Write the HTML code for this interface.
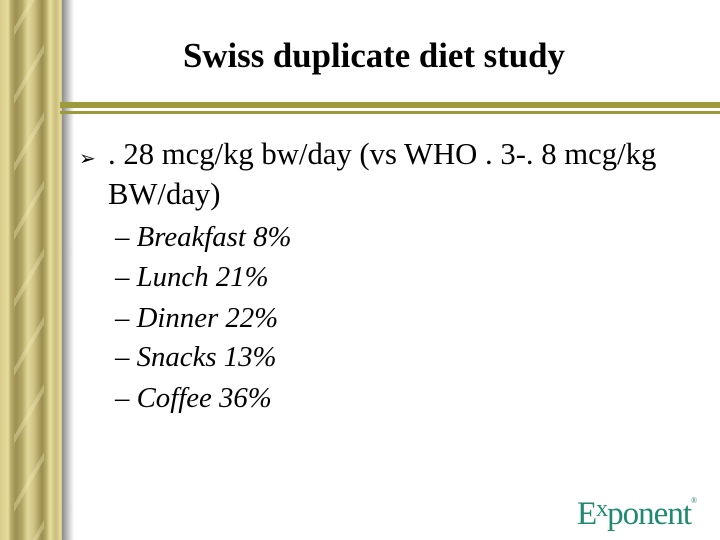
<!DOCTYPE html>
<html><head><meta charset="utf-8"><style>
body{margin:0;width:720px;height:540px;position:relative;background:#fff;overflow:hidden;font-family:"Liberation Serif",serif;}
#pillar{position:absolute;left:0;top:0;width:62px;height:540px;
background:linear-gradient(90deg,#d8cc8a 0,#e6dc9c 8px,#b8ab6a 11px,#9c8f52 16px,#b4a766 22px,#e2d89a 28px,#cfc284 34px,#9a8c4e 42px,#b6a968 46px,#e8de9e 50px,#c9bc7c 56px,#e4da9a 60px,#d8cc8a 62px);}
#stripes{position:absolute;left:14px;top:0;width:30px;height:540px;opacity:.35;
background:repeating-linear-gradient(120deg,transparent 0 14px,#f4ecb8 14px 18px,transparent 18px 34px);}
#shadow{position:absolute;left:62px;top:0;width:12px;height:540px;background:linear-gradient(90deg,#8a8a8a,#ffffff);}
.rule{position:absolute;left:60px;right:0;background:#9c9a3c;}
#title{position:absolute;left:183px;top:36px;white-space:nowrap;font-size:34.8px;font-weight:bold;}
.b{position:absolute;font-size:30.7px;white-space:nowrap;}
.s{position:absolute;left:115px;font-size:28.8px;font-style:italic;white-space:nowrap;}
</style></head><body>
<div id="pillar"></div>
<div id="stripes"></div>
<div id="shadow"></div>
<div class="rule" style="top:102px;height:6px"></div>
<div class="rule" style="top:111px;height:3px"></div>
<div id="title">Swiss duplicate diet study</div>
<div class="b" style="left:79px;top:146px;font-size:20px;font-family:'DejaVu Sans',sans-serif">➢</div>
<div class="b" style="left:108px;top:137px">. 28 mcg/kg bw/day (vs WHO . 3-. 8 mcg/kg</div>
<div class="b" style="left:108px;top:177px">BW/day)</div>
<div class="s" style="top:221px">– Breakfast 8%</div>
<div class="s" style="top:261px">– Lunch 21%</div>
<div class="s" style="top:302px">– Dinner 22%</div>
<div class="s" style="top:341px">– Snacks 13%</div>
<div class="s" style="top:382px">– Coffee 36%</div>
<div style="position:absolute;left:577px;top:496px;font-size:33px;color:#1f8a70;letter-spacing:-1px">E<span style="font-size:24px;position:relative;top:-8px">x</span>ponent<span style="font-size:8px;vertical-align:top">®</span></div>
</body></html>
